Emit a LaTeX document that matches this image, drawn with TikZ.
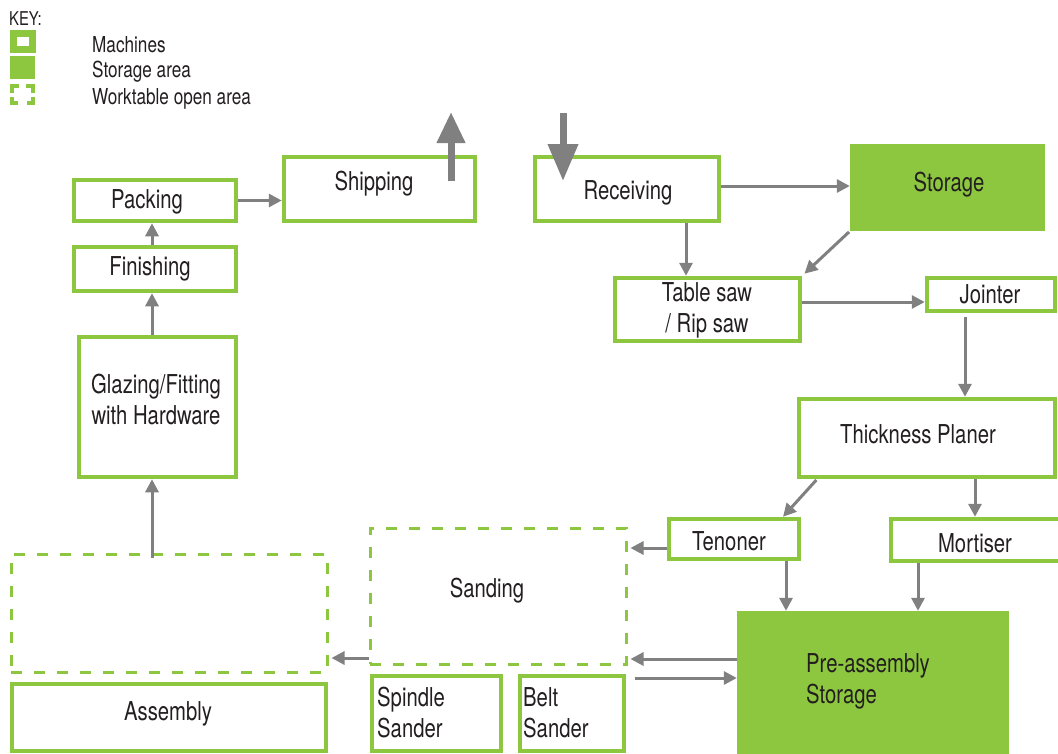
\documentclass[tikz,border=0pt]{standalone}
\usepackage{fontspec}
\setmainfont[FakeStretch=0.78]{TeX Gyre Heros}
\usetikzlibrary{arrows.meta}
\definecolor{grn}{HTML}{8DC63F}
\definecolor{arr}{HTML}{808080}
\definecolor{txt}{HTML}{231F20}
\begin{document}
\begin{tikzpicture}[x=1pt,y=-1pt,
  every node/.style={text=txt},
  lbl/.style={font=\fontsize{26}{31}\selectfont,inner sep=0pt,align=center},
  mach/.style={draw=grn,line width=4.5pt,fill=white,inner sep=0pt},
  stor/.style={fill=grn,inner sep=0pt},
  work/.style={draw=grn,line width=3pt,dash pattern=on 11pt off 12pt,inner sep=0pt},
  keytxt/.style={font=\fontsize{22}{24}\selectfont,inner sep=0pt,anchor=west},
  flow/.style={draw=arr,line width=3pt,-{Triangle[length=13pt,width=13pt]}},
  bigup/.style={draw=arr,line width=7pt,-{Triangle[length=31pt,width=27pt]}},
  bigdn/.style={draw=arr,line width=7pt,-{Triangle[length=37pt,width=29pt]}}]
\useasboundingbox (0,0) rectangle (1058,753);
\fill[white] (0,0) rectangle (1058,753);

% ---------- key ----------
\node[font=\fontsize{19}{20}\selectfont,inner sep=0pt,anchor=west] (keyt) at (9,19) {KEY:};
\node[draw=grn,line width=7pt,fill=white,minimum width=19pt,minimum height=16pt,inner sep=0pt] (kmach) at (22.5,41.5) {};
\node[fill=grn,minimum width=25pt,minimum height=23pt,inner sep=0pt] (kstor) at (22.5,67.5) {};
\begin{scope}[draw=grn,line width=4pt]
  \draw (12,93) -- (12,86) -- (19,86);
  \draw (26,86) -- (33,86) -- (33,93);
  \draw (12,97) -- (12,103) -- (18,103);
  \draw (27,103) -- (33,103) -- (33,97);
\end{scope}
\coordinate (kwork) at (22.5,94.5);
\node[keytxt] (kl1) at (92,45) {Machines};
\node[keytxt] (kl2) at (92,72) {Storage area};
\node[keytxt] (kl3) at (92,99) {Worktable open area};

% ---------- nodes ----------
\node[mach,minimum width=162pt,minimum height=41pt] (pack) at (155,200.5) {};
\node[lbl] (packt) at (147,202) {Packing};
\node[mach,minimum width=162pt,minimum height=44pt] (fin) at (155,269) {};
\node[lbl] (fint) at (150,269) {Finishing};
\node[mach,minimum width=157pt,minimum height=140pt] (glaz) at (157.5,407) {};
\node[lbl] (glazt) at (156,399) {Glazing/Fitting\\with Hardware};
\node[mach,minimum width=191pt,minimum height=64pt] (ship) at (379.5,189) {};
\node[lbl] (shipt) at (374,184) {Shipping};
\node[mach,minimum width=184pt,minimum height=64pt] (recv) at (627,189) {};
\node[lbl] (recvt) at (628,193) {Receiving};
\node[stor,minimum width=195pt,minimum height=87pt] (stor) at (947.5,187.5) {};
\node[lbl] (stort) at (949,185) {Storage};
\node[mach,minimum width=185pt,minimum height=63pt] (tbl) at (707.5,309.5) {};
\node[lbl] (tblt) at (707,310) {Table saw\\/ Rip saw};
\node[mach,minimum width=128pt,minimum height=33pt] (joint) at (991,294.5) {};
\node[lbl] (jointt) at (990,294) {Jointer};
\node[mach,minimum width=256pt,minimum height=78pt] (thick) at (927,438) {};
\node[lbl] (thickt) at (918,434) {Thickness Planer};
\node[mach,minimum width=130pt,minimum height=40pt] (ten) at (734,539) {};
\node[lbl] (tent) at (729,541) {Tenoner};
\node[mach,minimum width=171pt,minimum height=42pt] (mort) at (976.5,540) {};
\node[lbl] (mortt) at (975,543) {Mortiser};
\node[stor,minimum width=272pt,minimum height=150pt] (pre) at (873,686) {};
\node[lbl,align=left,anchor=west] (pret) at (806,681) {Pre-assembly\\Storage};
\node[work,minimum width=256pt,minimum height=136pt] (sand) at (498,596) {};
\node[lbl] (sandt) at (487,591) {Sanding};
\node[work,minimum width=316pt,minimum height=118pt] (asmd) at (169,613) {};
\node[mach,minimum width=314pt,minimum height=67pt] (asm) at (169,717.5) {};
\node[lbl] (asmt) at (168,714) {Assembly};
\node[mach,minimum width=129pt,minimum height=75pt] (spin) at (436.5,713.5) {};
\node[lbl,align=left,anchor=west] (spint) at (377,713) {Spindle\\Sander};
\node[mach,minimum width=104pt,minimum height=75pt] (belt) at (572,713.5) {};
\node[lbl,align=left,anchor=west] (beltt) at (523,713) {Belt\\Sander};

% ---------- connectors ----------
\draw[flow] (pack.east) -- (ship.west |- pack.east);
\draw[flow] (152,0 |- fin.north) -- (152,0 |- pack.south);
\draw[flow] (152,0 |- glaz.north) -- (152,0 |- fin.south);
\draw[flow,shorten <=-5pt] (152,0 |- asmd.north) -- (152,0 |- glaz.south);
\coordinate (shipin) at (451,181);
\coordinate (shipout) at (451,112);
\draw[bigup] (shipin) -- (shipout);
\coordinate (recvsrc) at (563,113);
\coordinate (recvin) at (563,181);
\draw[bigdn] (recvsrc) -- (recvin);
\draw[flow] (recv.east |- 0,186) -- (stor.west |- 0,186);
\draw[flow] (686,0 |- recv.south) -- (686,0 |- tbl.north);
\draw[flow,shorten <=1pt,shorten >=3pt] (stor.south west) -- (tbl.north east);
\draw[flow] (tbl.east |- 0,302) -- (joint.west |- 0,302);
\draw[flow,shorten <=4pt] (965,0 |- joint.south) -- (965,0 |- thick.north);
\draw[flow,shorten <=1pt] (817,0 |- thick.south) -- (783,0 |- ten.north);
\draw[flow] (975,0 |- thick.south) -- (975,0 |- mort.north);
\draw[flow,shorten >=3pt] (ten.west |- 0,548) -- (sand.east |- 0,548);
\draw[flow] (786,0 |- ten.south) -- (786,0 |- pre.north);
\draw[flow] (918,0 |- mort.south) -- (918,0 |- pre.north);
\draw[flow,shorten >=3pt] (pre.west |- 0,659) -- (sand.east |- 0,659);
\draw[flow,shorten <=7pt] (sand.east |- 0,678) -- (pre.west |- 0,678);
\draw[flow,shorten >=3pt] (sand.west |- 0,658) -- (asmd.east |- 0,658);
\end{tikzpicture}
\end{document}
